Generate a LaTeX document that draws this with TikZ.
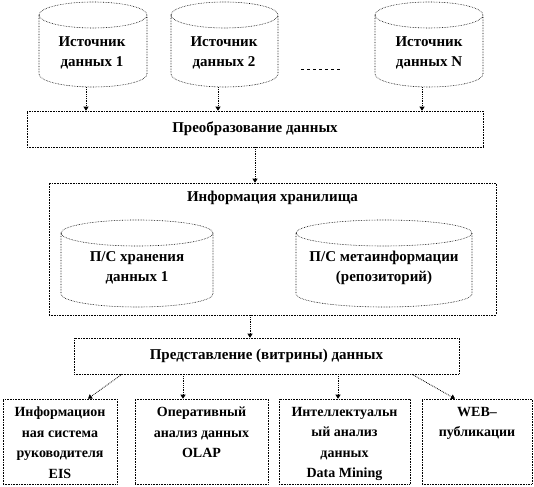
\documentclass[tikz,border=0pt]{standalone}
\usepackage{fontspec}
\setmainfont{Liberation Serif}
\usetikzlibrary{arrows.meta, positioning}

% cylinder outline round a named node: #1 node, #2 half width (pt)
\newcommand{\drawdb}[2]{%
  \draw[dbline] ([yshift=-13pt]#1.north west) -- ([yshift=13pt]#1.south west)
    arc[start angle=180, end angle=360, x radius=#2pt, y radius=13pt]
    -- ([yshift=-13pt]#1.north east)
    arc[start angle=0, end angle=360, x radius=#2pt, y radius=13pt];}

\begin{document}
\begin{tikzpicture}[x=1pt, y=1pt,
    font=\bfseries\fontsize{15}{20.5}\selectfont,
    db/.style={inner sep=0pt, outer sep=0pt},
    dbline/.style={densely dotted, line width=0.6pt},
    stage/.style={draw, densely dotted, line width=0.6pt, inner sep=0pt},
    outbox/.style={draw, densely dotted, line width=0.6pt, inner sep=0pt,
                   minimum height=85pt},
    lbl/.style={align=center, inner sep=0pt},
    small/.style={font=\bfseries\fontsize{14}{20.5}\selectfont},
    flow/.style={densely dotted, line width=0.8pt,
                 -{Triangle[width=5pt,length=4pt]}},
]
\useasboundingbox (0,0) rectangle (534,486);
% sources
\node[db, minimum width=108pt, minimum height=85pt] (src1) at (93,441.5) {};
\node[db, minimum width=107pt, minimum height=85pt] (src2) at (224.5,441.5) {};
\node[db, minimum width=108pt, minimum height=85pt] (srcN) at (429,441.5) {};
\drawdb{src1}{54}
\drawdb{src2}{53.5}
\drawdb{srcN}{54}
\node[lbl] (src1txt) at (92,433) {Источник\\данных 1};
\node[lbl] (src2txt) at (224,433) {Источник\\данных 2};
\node[lbl] (srcNtxt) at (429,433) {Источник\\данных N};
\draw[dashed] (301,417) -- (340,417);
% transformation
\node[stage, minimum width=456pt, minimum height=36pt] (trans) at (255,357)
  {Преобразование данных};
\draw[flow] ([xshift=-7pt]src1.south) -- ([xshift=-7pt]src1.south |- trans.north);
\draw[flow] ([xshift=-6.5pt]src2.south) -- ([xshift=-6.5pt]src2.south |- trans.north);
\draw[flow] ([xshift=-7pt]srcN.south) -- ([xshift=-7pt]srcN.south |- trans.north);
% storage
\node[stage, minimum width=447pt, minimum height=132pt] (store) at (272.5,237) {};
\node[lbl] (storettl) at (272.5,288) {Информация хранилища};
\node[db, minimum width=152pt, minimum height=87pt] (cylS) at (137,222.5) {};
\node[db, minimum width=176pt, minimum height=87pt] (cylM) at (384,222.5) {};
\drawdb{cylS}{76}
\drawdb{cylM}{88}
\node[lbl] (cylStxt) at (137,218) {П/С хранения\\данных 1};
\node[lbl] (cylMtxt) at (384,218) {П/С метаинформации\\(репозиторий)};
\draw[flow] (trans.south) -- (trans.south |- store.north);
% presentation
\node[stage, minimum width=385pt, minimum height=36pt] (pres) at (266.5,130)
  {Представление (витрины) данных};
\draw[flow] ([xshift=-22.5pt]store.south) -- ([xshift=-22.5pt]store.south |- pres.north);
% consumers
\node[outbox, minimum width=114pt] (eis) at (60,44.5) {};
\node[outbox, minimum width=133pt] (olap) at (201.5,44.5) {};
\node[outbox, minimum width=131pt] (dm) at (344.5,44.5) {};
\node[outbox, minimum width=110pt] (web) at (477,44.5) {};
\node[lbl, small, below=8pt of eis.north] (eistxt) {Информацион\\ная система\\руководителя\\EIS};
\node[lbl, small, below=8pt of olap.north] (olaptxt) {Оперативный\\анализ данных\\OLAP};
\node[lbl, small, below=8pt of dm.north] (dmtxt) {Интеллектуальн\\ый анализ\\данных\\Data Mining};
\node[lbl, small, below=8pt of web.north] (webtxt) {WEB–\\публикации};
\draw[flow] ([xshift=-144.5pt]pres.south) -- ([xshift=28pt]eis.north);
\draw[flow] ([xshift=-18.5pt]olap.north |- pres.south) -- ([xshift=-18.5pt]olap.north);
\draw[flow] ([xshift=-6.5pt]dm.north |- pres.south) -- ([xshift=-6.5pt]dm.north);
\draw[flow] ([xshift=145.5pt]pres.south) -- ([xshift=-22pt]web.north);
\end{tikzpicture}
\end{document}
